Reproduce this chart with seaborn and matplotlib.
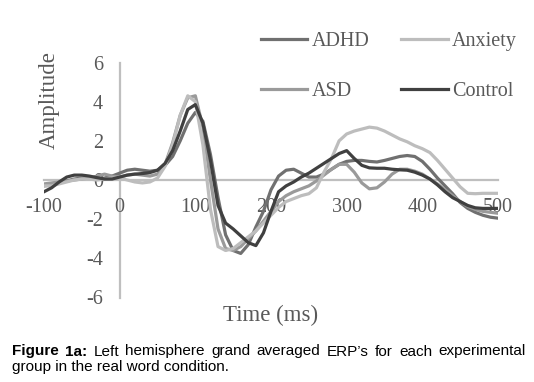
import numpy as np
import pandas as pd
import matplotlib
matplotlib.use('Agg')
import matplotlib.pyplot as plt
import seaborn as sns

# time axis (ms), one reading every 10 ms
time_ms = list(range(-100, 501, 10))

adhd = [-0.3, -0.25, -0.15, -0.05, 0.05, 0.1, 0.1, 0.05, 0.1, 0.2,
        0.35, 0.5, 0.55, 0.5, 0.45, 0.5, 0.75, 1.2, 2.0, 2.9,
        3.45, 3.0, 1.3, -0.9, -2.8, -3.6, -3.75, -3.3, -2.4, -1.6,
        -0.5, 0.2, 0.5, 0.55, 0.35, 0.15, 0.15, 0.3, 0.55, 0.8,
        0.95, 1.0, 1.0, 0.95, 0.92, 1.0, 1.1, 1.2, 1.25, 1.2,
        0.95, 0.55, 0.1, -0.3, -0.7, -1.15, -1.45, -1.65, -1.8, -1.9,
        -1.95]
anxiety = [-0.3, -0.3, -0.2, -0.1, 0.0, 0.05, 0.05, 0.0, 0.05, 0.1,
           0.1, 0.0, -0.1, -0.15, -0.1, 0.1, 0.7, 1.8, 3.3, 4.3,
           4.0, 1.8, -1.5, -3.4, -3.6, -3.5, -3.2, -2.9, -2.6, -2.2,
           -1.8, -1.4, -1.1, -0.95, -0.8, -0.7, -0.4, 0.4, 1.1, 2.0,
           2.35, 2.5, 2.6, 2.7, 2.65, 2.5, 2.3, 2.1, 1.95, 1.75,
           1.6, 1.4, 1.0, 0.55, 0.1, -0.35, -0.68, -0.7, -0.68, -0.68,
           -0.68]
asd = [-0.2, -0.15, -0.1, -0.05, 0.0, 0.05, 0.1, 0.2, 0.3, 0.2,
       0.15, 0.25, 0.3, 0.25, 0.2, 0.3, 0.8, 1.9, 3.3, 4.2,
       4.3, 2.7, 0.0, -2.5, -3.5, -3.6, -3.4, -3.0, -2.6, -2.1,
       -1.6, -1.1, -0.8, -0.6, -0.45, -0.3, -0.05, 0.25, 0.55, 0.8,
       0.8, 0.4, -0.15, -0.45, -0.4, -0.1, 0.3, 0.55, 0.55, 0.45,
       0.3, 0.05, -0.2, -0.5, -0.8, -1.1, -1.35, -1.5, -1.6, -1.65,
       -1.7]
control = [-0.6, -0.4, -0.1, 0.15, 0.25, 0.25, 0.2, 0.12, 0.05, 0.05,
           0.15, 0.25, 0.3, 0.33, 0.38, 0.5, 0.85, 1.5, 2.5, 3.6,
           3.85, 2.9, 1.0, -1.3, -2.2, -2.5, -2.85, -3.2, -3.35, -2.7,
           -1.6, -0.6, -0.3, -0.1, 0.15, 0.35, 0.6, 0.85, 1.1, 1.35,
           1.5, 1.1, 0.75, 0.62, 0.6, 0.6, 0.55, 0.52, 0.5, 0.4,
           0.25, 0.05, -0.25, -0.6, -0.9, -1.1, -1.3, -1.42, -1.45, -1.45,
           -1.45]

groups = ['ADHD', 'ASD', 'Anxiety', 'Control']
colors = {'ADHD': '#707070', 'ASD': '#9a9a9a', 'Anxiety': '#bdbdbd', 'Control': '#404040'}
xticks = [-100, 0, 100, 200, 300, 400, 500]
yticks = [-6, -4, -2, 0, 2, 4, 6]

series = {'ADHD': adhd, 'ASD': asd, 'Anxiety': anxiety, 'Control': control}
df = pd.concat([pd.DataFrame({'Time': time_ms, 'Amplitude': v, 'Group': g})
                for g, v in series.items()])

plt.rcParams['axes.unicode_minus'] = False

W, H = 534, 382
fig = plt.figure(figsize=(W / 100, H / 100), dpi=100)
ax = fig.add_axes([44 / W, 1 - 297.5 / H, 454 / W, 235 / H])

serif = 'Liberation Serif'
txt = '#595959'
axis_col = '#bfbfbf'

sns.lineplot(data=df, x='Time', y='Amplitude', hue='Group', hue_order=groups,
             palette=colors, linewidth=2.3, ax=ax)

ax.set_xlim(-100, 500)
ax.set_ylim(-6, 6)
ax.set_xticks(xticks)
ax.set_yticks(yticks)
ax.spines['left'].set_position(('data', 0))
ax.spines['bottom'].set_position(('data', 0))
ax.spines['right'].set_visible(False)
ax.spines['top'].set_visible(False)
for s in ['left', 'bottom']:
    ax.spines[s].set_color(axis_col)
    ax.spines[s].set_linewidth(1.6)
    ax.spines[s].set_zorder(0)
ax.tick_params(length=0)
ax.tick_params(axis='x', pad=13)
ax.tick_params(axis='y', pad=12)
for lab in ax.get_xticklabels() + ax.get_yticklabels():
    lab.set_fontfamily(serif)
    lab.set_fontsize(14.5)
    lab.set_color(txt)
ax.set_xlabel('')
ax.set_ylabel('')
ax.set_facecolor('white')

fig.text(49 / W, 1 - 100 / H, 'Amplitude', rotation=90, ha='center', va='center',
         family=serif, fontsize=16.5, color=txt)
fig.text(271 / W, 1 - 315 / H, 'Time (ms)', ha='center', va='center',
         family=serif, fontsize=16.5, color=txt)

sns.move_legend(ax, 'upper left', bbox_to_anchor=(261 / W, 1 - 32 / H),
                bbox_transform=fig.transFigure, ncol=2, title=None, frameon=False,
                borderpad=0, borderaxespad=0, handlelength=2.3, handletextpad=0.2,
                columnspacing=1.6, labelspacing=1.55,
                prop={'family': serif, 'size': 14.5})
for t in ax.get_legend().get_texts():
    t.set_color(txt)
for l in ax.get_legend().get_lines():
    l.set_linewidth(2.3)

# caption, justified first line
sans = 'Liberation Sans'
renderer = fig.canvas.get_renderer()


def justify(words, bold, ybase, x0, x1):
    texts = [fig.text(0, ybase, w, family=sans, fontsize=11, color='black',
                      weight='bold' if b else 'normal', va='baseline')
             for w, b in zip(words, bold)]
    widths = [t.get_window_extent(renderer).width for t in texts]
    gap = (x1 - x0 - sum(widths)) / (len(words) - 1)
    x = x0
    for t, w in zip(texts, widths):
        t.set_x(x / W)
        x += w + gap


line1 = ['Figure', '1a:', 'Left', 'hemisphere', 'grand', 'averaged', 'ERP\u2019s',
         'for', 'each', 'experimental']
justify(line1, [True, True] + [False] * 8, 1 - 355.5 / H, 12, 526)
fig.text(12 / W, 1 - 371.5 / H, 'group in the real word condition.', family=sans,
         fontsize=11, color='black', va='baseline')

fig.savefig('out.png', dpi=100)
